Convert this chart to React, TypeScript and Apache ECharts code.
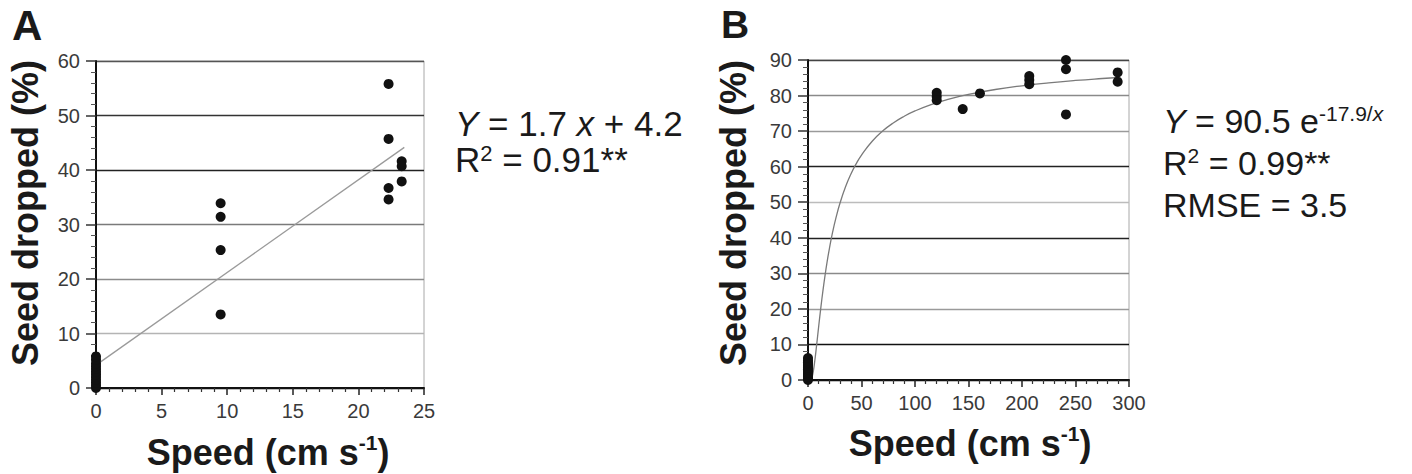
import React, { useEffect, useRef } from "react";
import * as echarts from "echarts";

// ---------- Data ----------
// Panel A
const speedA = [0, 0, 0, 0, 0, 0, 0, 0, 0, 0, 0, 0, 9.5, 9.5, 9.5, 9.5, 22.3, 22.3, 22.3, 22.3, 23.3, 23.3, 23.3];
const droppedA = [0, 0.5, 1, 1.5, 2, 2.5, 3, 3.5, 4, 4.5, 5.2, 5.8, 33.9, 31.4, 25.3, 13.5, 55.8, 45.7, 36.7, 34.6, 41.6, 40.7, 37.9];
const fitA = { slope: 1.7, intercept: 4.2 };
const fitARange = [0, 23.5];
const xTicksA = { min: 0, max: 25, interval: 5 };
const yTicksA = { min: 0, max: 60, interval: 10 };

// Panel B
const speedB = [0, 0, 0, 0, 0, 0, 0, 0, 0, 0, 0, 0, 0, 120.3, 120.3, 120.3, 144.6, 160.7, 206.8, 206.8, 206.8, 241.1, 241.1, 241.1, 289.4, 289.4];
const droppedB = [0, 0.5, 1, 1.5, 2, 2.5, 3, 3.5, 4, 4.5, 5, 5.5, 6.2, 80.8, 79.7, 78.7, 76.2, 80.6, 85.5, 84.4, 83.2, 90.0, 87.4, 74.7, 86.5, 83.9];
const fitB = { a: 90.5, b: 17.9 };
const fitBSpeeds = [2, 3, 4, 5, 6, 7, 8, 9, 10, 12, 14, 16, 18, 20, 23, 26, 30, 35, 40, 45, 50, 60, 70, 80, 90, 100, 115, 130, 150, 175, 200, 225, 250, 275, 290];
const xTicksB = { min: 0, max: 300, interval: 50 };
const yTicksB = { min: 0, max: 90, interval: 10 };

// Gridline tones as they appear in the scan
const gridColorsA = ["#000", "#b4b4b4", "#8c8c8c", "#7a7a7a", "#222", "#333", "#555"];
const gridColorsB = ["#000", "#111", "#9a9a9a", "#8a8a8a", "#222", "#bcbcbc", "#222", "#9a9a9a", "#8a8a8a", "#444"];

const FONT = "'Liberation Sans', Arial, Helvetica, sans-serif";

function xAxisCfg(gridIndex: number, t: { min: number; max: number; interval: number }) {
  return {
    type: "value",
    gridIndex,
    min: t.min,
    max: t.max,
    interval: t.interval,
    axisLine: { show: true, onZero: false, lineStyle: { color: "#111", width: 2 } },
    axisTick: { show: true, length: 7, lineStyle: { color: "#222", width: 1.5 } },
    minorTick: { show: true, splitNumber: 5, length: 4, lineStyle: { color: "#333", width: 1.2 } },
    axisLabel: { color: "#3a3a3a", fontSize: 20, fontFamily: FONT, margin: 13 },
    splitLine: { show: false },
  };
}

function yAxisCfg(gridIndex: number, t: { min: number; max: number; interval: number }, colors: string[]) {
  return {
    type: "value",
    gridIndex,
    min: t.min,
    max: t.max,
    interval: t.interval,
    axisLine: { show: true, onZero: false, lineStyle: { color: "#111", width: 2 } },
    axisTick: { show: true, length: 10, lineStyle: { color: "#333", width: 1.5 } },
    minorTick: { show: true, splitNumber: 5, length: 5, lineStyle: { color: "#555", width: 1 } },
    axisLabel: { color: "#3a3a3a", fontSize: 20, fontFamily: FONT, margin: 16 },
    splitLine: { show: true, lineStyle: { color: colors, width: 1.3 } },
  };
}

export default function App() {
  const ref = useRef<HTMLDivElement>(null);

  useEffect(() => {
    if (!ref.current) return;
    const chart = echarts.init(ref.current, undefined, { renderer: "svg" });

    const scatterA = speedA.map((x, i) => [x, droppedA[i]]);
    const scatterB = speedB.map((x, i) => [x, droppedB[i]]);
    const lineA = fitARange.map((x) => [x, fitA.slope * x + fitA.intercept]);
    const curveB = fitBSpeeds.map((x) => [x, fitB.a * Math.exp(-fitB.b / x)]);

    const titleRich = {
      b: { fontSize: 36, fontWeight: "bold", fontFamily: FONT, color: "#1a1a1a", lineHeight: 40 },
      sup: { fontSize: 21, fontWeight: "bold", fontFamily: FONT, color: "#1a1a1a", verticalAlign: "top", lineHeight: 24 },
    };

    const eqRich = (fs: number, lh: number) => ({
      n: { fontSize: fs, fontFamily: FONT, color: "#1a1a1a", lineHeight: lh },
      i: { fontSize: fs, fontFamily: FONT, fontStyle: "italic", color: "#1a1a1a", lineHeight: lh },
      sup: { fontSize: Math.round(fs * 0.62), fontFamily: FONT, color: "#1a1a1a", verticalAlign: "top", lineHeight: Math.round(fs * 0.62) },
      supi: { fontSize: Math.round(fs * 0.62), fontFamily: FONT, fontStyle: "italic", color: "#1a1a1a", verticalAlign: "top", lineHeight: Math.round(fs * 0.62) },
    });

    const textEl = (x: number, y: number, text: string, rich: any, extra: any = {}) => ({
      type: "text",
      x,
      y,
      ...extra,
      style: { text, rich, fill: "#1a1a1a", align: extra.align || "left", verticalAlign: "middle", font: `30px ${FONT}` },
    });

    chart.setOption({
      animation: false,
      backgroundColor: "#ffffff",
      grid: [
        { left: 96, top: 61, width: 328, height: 327, show: true, borderColor: "#a8a8a8", borderWidth: 1, backgroundColor: "transparent" },
        { left: 808, top: 60, width: 321, height: 320, show: true, borderColor: "#a8a8a8", borderWidth: 1, backgroundColor: "transparent" },
      ],
      xAxis: [xAxisCfg(0, xTicksA), xAxisCfg(1, xTicksB)],
      yAxis: [yAxisCfg(0, yTicksA, gridColorsA), yAxisCfg(1, yTicksB, gridColorsB)],
      series: [
        {
          type: "line",
          xAxisIndex: 0,
          yAxisIndex: 0,
          data: lineA,
          showSymbol: false,
          lineStyle: { color: "#9a9a9a", width: 1.3 },
          z: 2,
        },
        {
          type: "scatter",
          xAxisIndex: 0,
          yAxisIndex: 0,
          data: scatterA,
          symbolSize: 10,
          itemStyle: { color: "#111", opacity: 1 },
          z: 3,
        },
        {
          type: "line",
          xAxisIndex: 1,
          yAxisIndex: 1,
          data: curveB,
          smooth: true,
          showSymbol: false,
          lineStyle: { color: "#7a7a7a", width: 1.3 },
          z: 2,
        },
        {
          type: "scatter",
          xAxisIndex: 1,
          yAxisIndex: 1,
          data: scatterB,
          symbolSize: 10,
          itemStyle: { color: "#111", opacity: 1 },
          z: 3,
        },
      ],
      graphic: [
        // Panel letters
        { type: "text", x: 12, y: 25, style: { text: "A", fill: "#1a1a1a", font: `bold 42px ${FONT}`, align: "left", verticalAlign: "middle" } },
        { type: "text", x: 721, y: 24, style: { text: "B", fill: "#1a1a1a", font: `bold 39px ${FONT}`, align: "left", verticalAlign: "middle" } },
        // Y axis titles
        textEl(25, 213, "{b|Seed dropped (%)}", titleRich, { rotation: Math.PI / 2, align: "center" }),
        textEl(733, 213, "{b|Seed dropped (%)}", titleRich, { rotation: Math.PI / 2, align: "center" }),
        // X axis titles
        textEl(268, 452, "{b|Speed (cm s}{sup|-1}{b|)}", titleRich, { align: "center" }),
        textEl(970, 443, "{b|Speed (cm s}{sup|-1}{b|)}", titleRich, { align: "center" }),
        // Equations A
        textEl(455, 123, "{i|Y}{n| = 1.7 }{i|x}{n| + 4.2}", eqRich(35, 33)),
        textEl(455, 159, "{n|R}{sup|2}{n| = 0.91**}", eqRich(35, 33)),
        // Equations B
        textEl(1163, 121, "{i|Y}{n| = 90.5 e}{sup|-17.9/}{supi|x}", eqRich(34, 36)),
        textEl(1163, 163, "{n|R}{sup|2}{n| = 0.99**}", eqRich(34, 36)),
        textEl(1163, 205, "{n|RMSE = 3.5}", eqRich(34, 36)),
      ],
    });

    return () => chart.dispose();
  }, []);

  return <div ref={ref} style={{ position: "absolute", left: 0, top: 0, width: 1412, height: 474 }} />;
}
